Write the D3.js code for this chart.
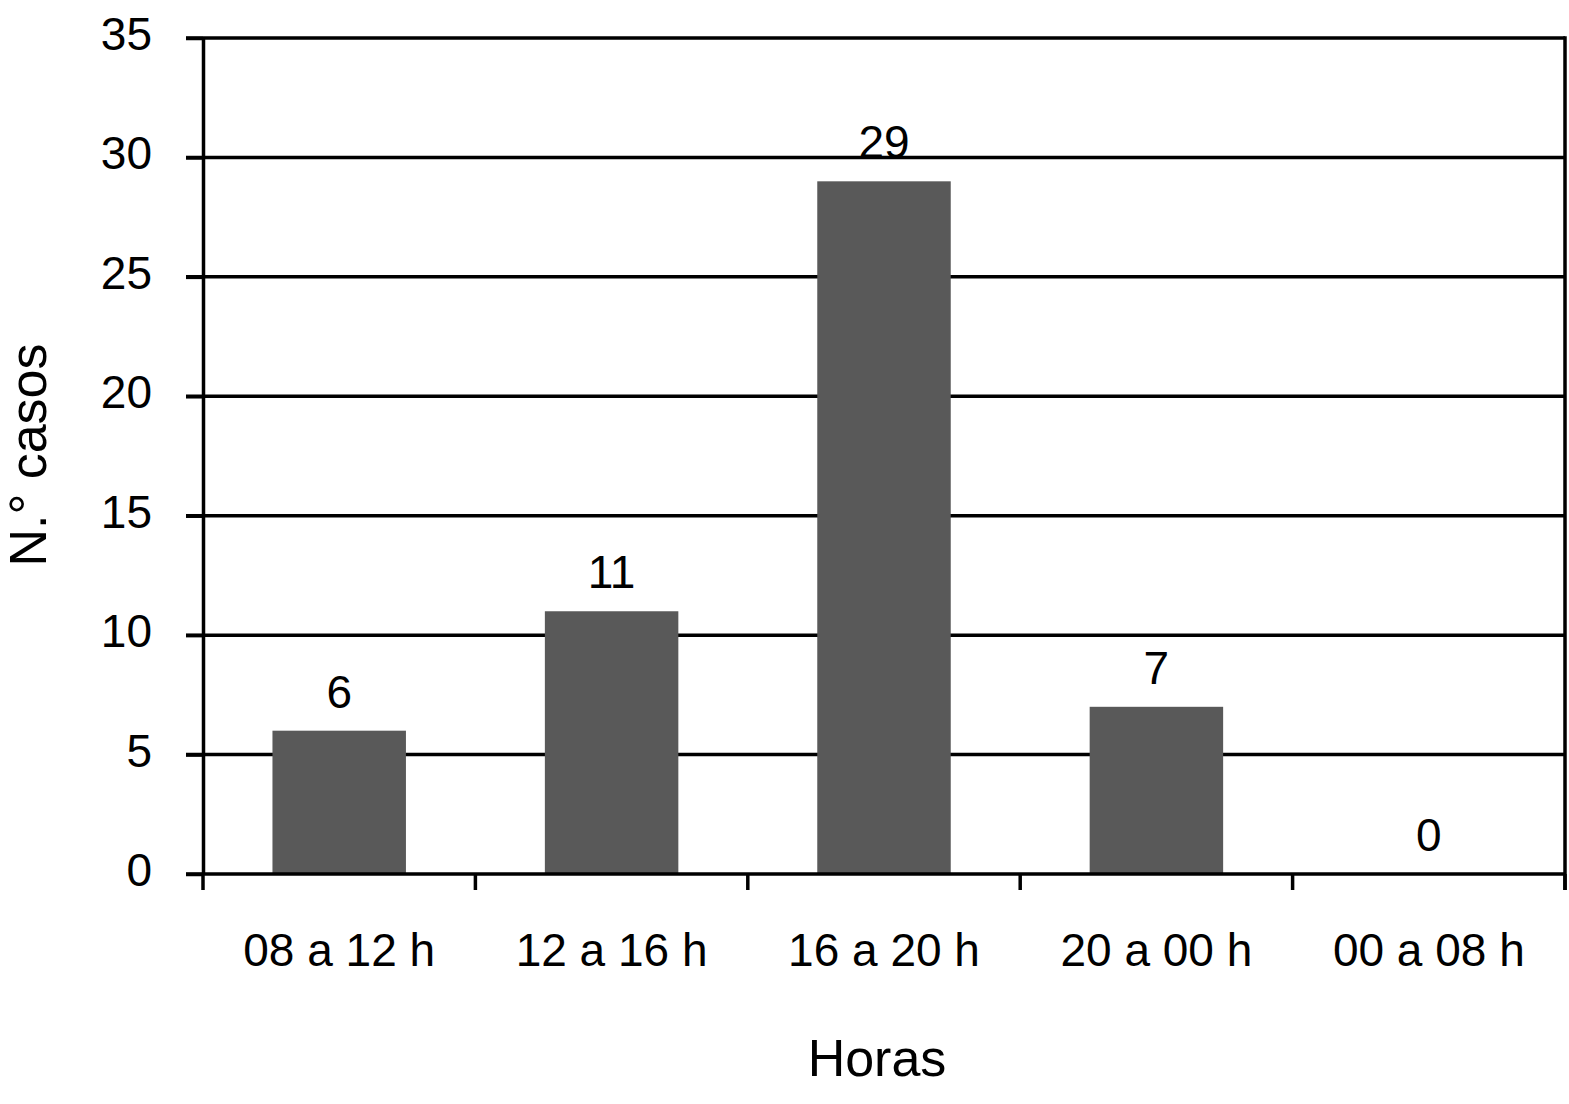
<!DOCTYPE html>
<html>
<head>
<meta charset="utf-8">
<script src="https://cdn.jsdelivr.net/npm/d3@7"></script>
<style>
  html, body { margin: 0; padding: 0; background: #fff; }
  svg { display: block; }
  text { font-family: "Liberation Sans", Arial, Helvetica, sans-serif; fill: #000; }
</style>
</head>
<body>
<svg id="chart" width="1569" height="1104"></svg>
<script>
const categories = ["08 a 12 h", "12 a 16 h", "16 a 20 h", "20 a 00 h", "00 a 08 h"];
const values = [6, 11, 29, 7, 0];
const yTicks = [0, 5, 10, 15, 20, 25, 30, 35];
const xTitle = "Horas";
const yTitle = "N.\u00b0 casos";

(function () {
const svg = d3.select("#chart");
const mLeft = 203, mRight = 1565, mTop = 38, mBottom = 874;
const sw = 3.5;

const x = d3.scaleBand().domain(categories).range([mLeft, mRight]).paddingInner(0.51).paddingOuter(0.255);
const y = d3.scaleLinear().domain([0, 35]).range([mBottom, mTop]);

// gridlines
svg.append("g").selectAll("line").data(yTicks.filter(d => d > 0)).join("line")
  .attr("x1", mLeft - 17).attr("x2", mRight)
  .attr("y1", d => y(d)).attr("y2", d => y(d))
  .attr("stroke", "#000").attr("stroke-width", sw);

// bars
svg.append("g").selectAll("rect").data(values).join("rect")
  .attr("x", (d, i) => x(categories[i]))
  .attr("width", x.bandwidth())
  .attr("y", d => y(d))
  .attr("height", d => mBottom - y(d))
  .attr("fill", "#595959");

// data labels
svg.append("g").selectAll("text").data(values).join("text")
  .attr("x", (d, i) => x(categories[i]) + x.bandwidth() / 2)
  .attr("y", d => y(d) - 23)
  .attr("text-anchor", "middle")
  .attr("font-size", 46)
  .text(d => d);

// y axis
const yAxis = d3.axisLeft(y).tickValues(yTicks).tickSize(17).tickPadding(34).tickSizeOuter(0);
const gy = svg.append("g").attr("transform", `translate(${mLeft},0)`).call(yAxis);
gy.select(".domain").attr("stroke", "#000").attr("stroke-width", sw);
gy.selectAll(".tick line").attr("stroke", "#000").attr("stroke-width", sw);
gy.selectAll(".tick text").attr("font-size", 46).attr("font-family", "Liberation Sans, Arial, sans-serif").attr("dy", "0.25em");

// x axis: boundary ticks between categories
const boundaries = d3.range(categories.length + 1).map(i => mLeft + i * x.step());
const gx = svg.append("g");
gx.append("line").attr("x1", mLeft - 17).attr("x2", mRight).attr("y1", mBottom).attr("y2", mBottom)
  .attr("stroke", "#000").attr("stroke-width", sw);
gx.selectAll("line.bt").data(boundaries).join("line").attr("class", "bt")
  .attr("x1", d => d).attr("x2", d => d).attr("y1", mBottom).attr("y2", mBottom + 16)
  .attr("stroke", "#000").attr("stroke-width", sw);
gx.selectAll("text").data(categories).join("text")
  .attr("x", d => x(d) + x.bandwidth() / 2)
  .attr("y", 966)
  .attr("text-anchor", "middle")
  .attr("font-size", 46)
  .text(d => d);

// right border
svg.append("line").attr("x1", mRight).attr("x2", mRight).attr("y1", mTop - 1.75).attr("y2", mBottom + 16)
  .attr("stroke", "#000").attr("stroke-width", sw);

// titles
svg.append("text").attr("x", (mLeft + mRight) / 2 - 7).attr("y", 1076)
  .attr("text-anchor", "middle").attr("font-size", 52).text(xTitle);
svg.append("text").attr("transform", `translate(46,${455}) rotate(-90)`)
  .attr("text-anchor", "middle").attr("font-size", 52).text(yTitle);
})();
</script>
</body>
</html>
